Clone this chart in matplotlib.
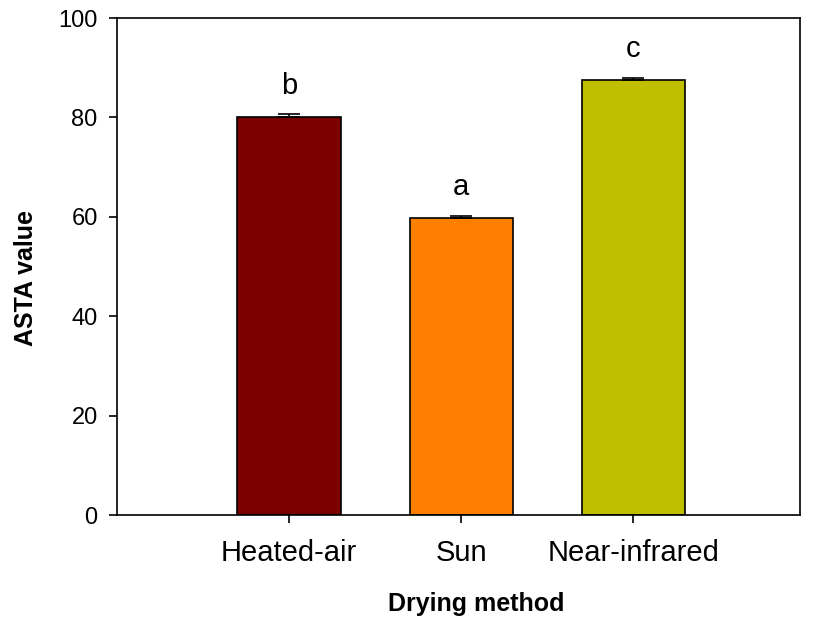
import matplotlib
matplotlib.use("Agg")
import matplotlib.pyplot as plt

categories = ["Heated-air", "Sun", "Near-infrared"]
values = [80.0, 59.8, 87.6]
errors = [0.6, 0.4, 0.4]
letters = ["b", "a", "c"]
colors = ["#7B0000", "#FF8000", "#BFBF00"]

plt.rcParams['font.family'] = ['Liberation Sans', 'DejaVu Sans']

fig = plt.figure(figsize=(8.13, 6.22), dpi=100)
ax = fig.add_axes([0.144, 0.172, 0.840, 0.799])

x = list(range(len(categories)))
ax.bar(x, values, width=0.6, color=colors, edgecolor="black", linewidth=1.2, zorder=2)
ax.errorbar(x, values, yerr=[[0]*len(errors), errors], fmt="none", ecolor="black",
            elinewidth=1.2, capsize=8, capthick=1.2, zorder=3)
for xi, v, e, l in zip(x, values, errors, letters):
    ax.text(xi, v + e + 4.2, l, ha="center", va="baseline", fontsize=21)

ax.set_xlim(-1.0, 2.97)
ax.set_ylim(0, 100)
ax.set_yticks([0, 20, 40, 60, 80, 100])
ax.set_xticks(x)
ax.set_xticklabels(categories, fontsize=21)
ax.tick_params(axis="y", labelsize=17, direction="out", length=6, width=1.2, pad=8)
ax.tick_params(axis="x", direction="out", length=6, width=1.2, pad=11)
for s in ax.spines.values():
    s.set_linewidth(1.2)

ax.set_xlabel("Drying method", fontsize=18, fontweight="bold")
ax.set_ylabel("ASTA value", fontsize=18, fontweight="bold")
ax.xaxis.set_label_coords(0.526, -0.155)
ax.yaxis.set_label_coords(-0.116, 0.477)

fig.savefig("out.png", dpi=100)
